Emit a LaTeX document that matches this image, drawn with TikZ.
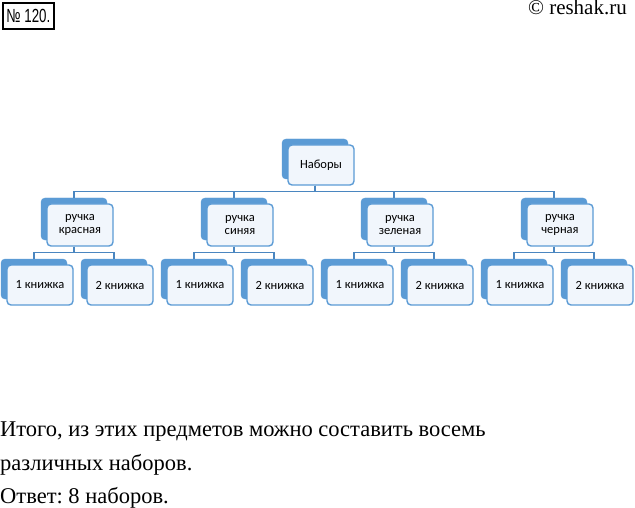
\documentclass[tikz,border=0pt]{standalone}
\usepackage{fontspec}
\setmainfont{Liberation Serif}
\newfontfamily\calib{Carlito}
\newfontfamily\titlefont{Liberation Sans}
\frenchspacing
\definecolor{bk}{HTML}{5B9BD5}
\definecolor{bd}{HTML}{5B9BD5}
\definecolor{fr}{HTML}{F1F6FC}
\definecolor{ln}{HTML}{4A86C0}
\tikzset{
  backbox/.style={fill=bk, draw=bk, rounded corners=4pt, minimum width=66pt, inner sep=0pt},
  frontbox/.style={fill=fr, draw=bd, line width=1.4pt, rounded corners=4pt, minimum width=66pt, inner sep=0pt, align=center, font=\calib\fontsize{12.5}{13}\selectfont},
  conn/.style={draw=ln, line width=1.3pt},
  bodytext/.style={anchor=base west, inner sep=0pt, font=\fontsize{22.5}{26}\selectfont}
}
\begin{document}
\begin{tikzpicture}[x=1pt,y=-1pt]
\useasboundingbox (0,0) rectangle (635,508);
% header
\node[draw=black, line width=1.7pt, minimum width=51pt, minimum height=26pt, inner sep=0pt, anchor=north west] (num) at (2,2) {\titlefont\fontsize{19}{19}\selectfont\scalebox{0.7}[1]{№ 120.}};
\node[anchor=base east, inner sep=0pt, font=\fontsize{21}{21}\selectfont] (site) at (627,15) {© reshak.ru};
% root
\node[backbox, minimum height=40pt] (rb) at (315,159) {};
\node[frontbox, minimum height=40pt] (rf) at (321,165) {Наборы};
% level 1
\foreach \i/\t in {1/{ручка\\красная},2/{ручка\\синяя},3/{ручка\\зеленая},4/{ручка\\черная}}{
  \node[backbox, minimum height=42pt] (a\i) at ({74+160*(\i-1)},219) {};
  \node[frontbox, minimum height=42pt] (a\i f) at ({80+160*(\i-1)},225) {\t};
  \draw[conn] (rb.center |- rf.south) -- ++(0,6) -| (a\i.north);
}
% level 2
\foreach \i in {1,...,4}{
  \foreach \k/\t in {1/{1 книжка},2/{2 книжка}}{
    \pgfmathtruncatemacro{\j}{2*(\i-1)+\k}
    \node[backbox, minimum height=40pt] (b\j) at ({34+80*(\j-1)},279) {};
    \node[frontbox, minimum height=40pt] (b\j f) at ({40+80*(\j-1)},285) {\t};
    \draw[conn] (a\i.center |- a\i f.south) -- ++(0,6) -| (b\j.north);
  }
}
% text
\node[bodytext] (t1) at (0,436) {Итого, из этих предметов можно составить восемь};
\node[bodytext] (t2) at (0,470) {различных наборов.};
\node[bodytext] (t3) at (0,503) {Ответ: 8 наборов.};
\end{tikzpicture}
\end{document}
